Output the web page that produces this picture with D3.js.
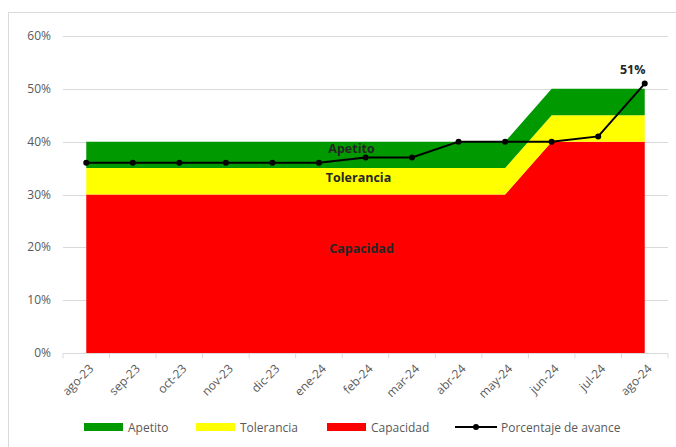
<!DOCTYPE html>
<html>
<head>
<meta charset="utf-8">
<script src="https://cdnjs.cloudflare.com/ajax/libs/d3/7.8.5/d3.min.js"></script>
<style>
    body { margin: 0; background: #fff; }
    svg text { font-family: "Open Sans", sans-serif; }
    .grid line { stroke: #d9d9d9; }
    .tick-lbl { fill: #595959; font-size: 12px; }
    .lbl { font-weight: bold; font-size: 12.5px; fill: #262626; }
</style>
</head>
<body>
<div id="chart"></div>
<script>
    var months = ["ago-23", "sep-23", "oct-23", "nov-23", "dic-23", "ene-24", "feb-24",
        "mar-24", "abr-24", "may-24", "jun-24", "jul-24", "ago-24"];
    var capacidad = [30, 30, 30, 30, 30, 30, 30, 30, 30, 30, 40, 40, 40];
    var tolerancia = [5, 5, 5, 5, 5, 5, 5, 5, 5, 5, 5, 5, 5];
    var apetito = [5, 5, 5, 5, 5, 5, 5, 5, 5, 5, 5, 5, 5];
    var avance = [36, 36, 36, 36, 36, 36, 37, 37, 40, 40, 40, 41, 51];
    var yTicks = [0, 10, 20, 30, 40, 50, 60];

    var width = 676, height = 447;
    var svg = d3.select("#chart").append("svg")
        .attr("width", width)
        .attr("height", height);

    // chart border
    svg.append("rect")
        .attr("x", 8.5).attr("y", 12.5)
        .attr("width", 700).attr("height", 460)
        .attr("fill", "none").attr("stroke", "#d9d9d9");

    var x = d3.scaleBand().domain(months).range([63, 668]);
    var cx = function (m) { return x(m) + x.bandwidth() / 2; };
    var y = d3.scaleLinear().domain([0, 60]).range([353, 36]);

    // gridlines
    svg.append("g").attr("class", "grid")
        .selectAll("line").data(yTicks).enter().append("line")
        .attr("x1", 63).attr("x2", 668)
        .attr("y1", function (d) { return Math.round(y(d)) + 0.5; })
        .attr("y2", function (d) { return Math.round(y(d)) + 0.5; });

    svg.append("g").selectAll("text").data(yTicks).enter().append("text")
        .attr("class", "tick-lbl")
        .attr("x", 51)
        .attr("y", function (d) { return y(d) + 4; })
        .attr("text-anchor", "end")
        .text(function (d) { return d + "%"; });

    // stacked areas
    var rows = months.map(function (m, i) {
        return { month: m, capacidad: capacidad[i], tolerancia: tolerancia[i], apetito: apetito[i] };
    });
    var stack = d3.stack().keys(["capacidad", "tolerancia", "apetito"]);
    var colors = { capacidad: "#ff0000", tolerancia: "#ffff00", apetito: "#009900" };
    var area = d3.area()
        .x(function (d) { return cx(d.data.month); })
        .y0(function (d) { return y(d[0]); })
        .y1(function (d) { return y(d[1]); });

    svg.append("g").selectAll("path").data(stack(rows)).enter().append("path")
        .attr("d", area)
        .attr("fill", function (d) { return colors[d.key]; });

    // x axis
    var xAxis = svg.append("g").attr("transform", "translate(0,353.5)");
    xAxis.append("line").attr("x1", 63).attr("x2", 668).attr("stroke", "#d9d9d9");
    xAxis.selectAll(".tk").data(months.concat(["end"])).enter().append("line")
        .attr("x1", function (d, i) { return i < months.length ? x(d) : 668; })
        .attr("x2", function (d, i) { return i < months.length ? x(d) : 668; })
        .attr("y1", 0).attr("y2", 5)
        .attr("stroke", "#d9d9d9");
    xAxis.selectAll("text").data(months).enter().append("text")
        .attr("class", "tick-lbl")
        .attr("font-size", "11.5px")
        .attr("text-anchor", "end")
        .attr("transform", function (d) { return "translate(" + (cx(d) + 8) + ",16) rotate(-45)"; })
        .text(function (d) { return d; });

    // band labels
    var bandLabels = [
        { text: "Apetito", at: "feb-24", off: -14, v: 38.6 },
        { text: "Tolerancia", at: "feb-24", off: -7, v: 33.1 },
        { text: "Capacidad", at: "feb-24", off: -4, v: 19.6 }
    ];
    svg.append("g").selectAll("text").data(bandLabels).enter().append("text")
        .attr("class", "lbl")
        .attr("text-anchor", "middle")
        .attr("x", function (d) { return cx(d.at) + d.off; })
        .attr("y", function (d) { return y(d.v) + 4; })
        .text(function (d) { return d.text; });

    // avance line
    var line = d3.line()
        .x(function (d, i) { return cx(months[i]); })
        .y(function (d) { return y(d); });
    svg.append("path").datum(avance)
        .attr("d", line)
        .attr("fill", "none")
        .attr("stroke", "#000")
        .attr("stroke-width", 2);
    svg.append("g").selectAll("circle").data(avance).enter().append("circle")
        .attr("cx", function (d, i) { return cx(months[i]); })
        .attr("cy", function (d) { return y(d); })
        .attr("r", 3)
        .attr("fill", "#000");

    var last = avance.length - 1;
    svg.append("text").attr("class", "lbl")
        .attr("text-anchor", "middle")
        .attr("x", cx(months[last]) - 12)
        .attr("y", y(avance[last]) - 10)
        .text(avance[last] + "%");

    // legend
    var legend = [
        { name: "Apetito", color: "#009900", x: 84 },
        { name: "Tolerancia", color: "#ffff00", x: 196 },
        { name: "Capacidad", color: "#ff0000", x: 327 }
    ];
    var lg = svg.append("g").attr("transform", "translate(0,427)");
    lg.selectAll("rect").data(legend).enter().append("rect")
        .attr("x", function (d) { return d.x; })
        .attr("y", -4).attr("width", 39).attr("height", 8)
        .attr("fill", function (d) { return d.color; });
    lg.selectAll("text.l").data(legend).enter().append("text")
        .attr("class", "tick-lbl")
        .attr("x", function (d) { return d.x + 44; })
        .attr("y", 4.5)
        .text(function (d) { return d.name; });
    lg.append("line").attr("x1", 455).attr("x2", 497)
        .attr("stroke", "#000").attr("stroke-width", 2);
    lg.append("circle").attr("cx", 476).attr("cy", 0).attr("r", 3).attr("fill", "#000");
    lg.append("text").attr("class", "tick-lbl")
        .attr("x", 501).attr("y", 4.5)
        .text("Porcentaje de avance");
</script>
</body>
</html>
